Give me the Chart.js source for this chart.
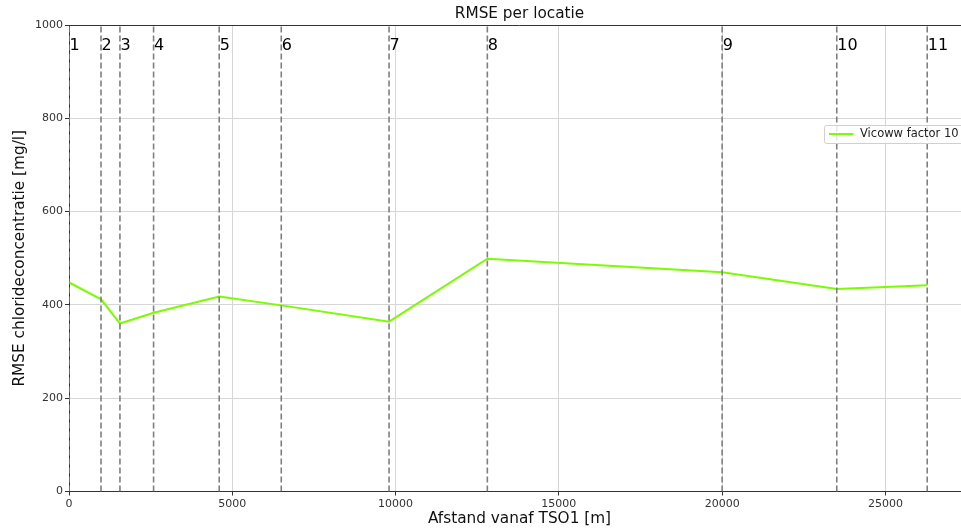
<!DOCTYPE html>
<html>
<head>
<meta charset="utf-8">
<script src="https://cdn.jsdelivr.net/npm/chart.js@4/dist/chart.umd.min.js"></script>
<style>
  html, body { margin: 0; padding: 0; background: #fff; overflow: hidden; }
  #wrap { width: 961px; height: 531px; overflow: hidden; }
</style>
</head>
<body>
<div id="wrap"><canvas id="rmseChart" width="980" height="531"></canvas></div>
<script>
// locations along the river, distance from TSO1 [m] and RMSE [mg/l]
const locaties = ["1", "2", "3", "4", "5", "6", "7", "8", "9", "10", "11"];
const afstand = [0, 980, 1560, 2590, 4600, 6500, 9800, 12810, 20000, 23510, 26280];
const rmse = [448, 412, 360, 383, 418, 399, 364, 499, 470, 434, 442];
const xTicks = [0, 5000, 10000, 15000, 20000, 25000];
const yTicks = [0, 200, 400, 600, 800, 1000];

const font = "'DejaVu Sans', sans-serif";
const green = "#7cfc00";
const dashGrey = "#7f7f7f";

// one dashed dataset per location, from bottom to top of the axes
const locatieLines = afstand.map((x) => {
  return {
    label: "",
    data: [{ x: x, y: 0 }, { x: x, y: 1000 }],
    borderColor: dashGrey,
    borderWidth: 1.6,
    borderDash: [6, 3],
    pointRadius: 0,
    order: 0,
  };
});

const extras = {
  id: "extras",
  afterDatasetsDraw(chart) {
    const ctx = chart.ctx;
    const area = chart.chartArea;
    const xs = chart.scales.x;
    const ys = chart.scales.y;
    ctx.save();
    // top spine
    ctx.strokeStyle = "#333";
    ctx.lineWidth = 1;
    ctx.beginPath();
    ctx.moveTo(area.left, area.top + 0.5);
    ctx.lineTo(area.right, area.top + 0.5);
    ctx.stroke();

    // location numbers
    ctx.fillStyle = "#000";
    ctx.font = "16px " + font;
    ctx.textAlign = "left";
    ctx.textBaseline = "alphabetic";
    locaties.forEach((name, i) => {
      ctx.fillText(name, xs.getPixelForValue(afstand[i]) + 0.5, ys.getPixelForValue(947));
    });

    // legend
    const bx = 824.5, by = 125.5, bw = 150, bh = 18;
    ctx.fillStyle = "rgba(255,255,255,0.8)";
    ctx.strokeStyle = "#d0d0d0";
    ctx.beginPath();
    ctx.roundRect(bx, by, bw, bh, 2);
    ctx.fill();
    ctx.stroke();
    ctx.strokeStyle = green;
    ctx.lineWidth = 2;
    ctx.beginPath();
    ctx.moveTo(829, 134);
    ctx.lineTo(853, 134);
    ctx.stroke();
    ctx.fillStyle = "#222";
    ctx.font = "11.5px " + font;
    ctx.textBaseline = "middle";
    ctx.fillText("Vicoww factor 10", 860, 134.5);

    // titles
    ctx.fillStyle = "#111";
    ctx.font = "15.3px " + font;
    ctx.textAlign = "center";
    const cx = (area.left + area.right) / 2;
    ctx.fillText("RMSE per locatie", cx, 14);
    ctx.fillText("Afstand vanaf TSO1 [m]", cx, 519);
    ctx.translate(20, (area.top + area.bottom) / 2);
    ctx.rotate(-Math.PI / 2);
    ctx.fillText("RMSE chlorideconcentratie [mg/l]", 0, 0);
    ctx.restore();
  },
};

new Chart(document.getElementById("rmseChart"), {
  type: "line",
  data: {
    datasets: [
      {
        label: "Vicoww factor 10",
        data: afstand.map((x, i) => ({ x: x, y: rmse[i] })),
        borderColor: green,
        borderWidth: 2,
        pointRadius: 0,
        tension: 0,
        order: 1,
      },
      ...locatieLines,
    ],
  },
  options: {
    responsive: false,
    animation: false,
    layout: { padding: { top: 25, right: 10, left: 0, bottom: 0 } },
    scales: {
      x: {
        type: "linear",
        min: 0,
        max: 27590,
        afterBuildTicks: (scale) => {
          scale.ticks = xTicks.map((v) => ({ value: v }));
        },
        afterFit: (scale) => {
          scale.height = 39.5;
        },
        grid: { color: "#d6d6d6", tickColor: "#333", tickLength: 4 },
        border: { color: "#333", width: 1 },
        ticks: {
          color: "#333",
          font: { family: font, size: 11 },
          padding: 2,
          maxRotation: 0,
          callback: (v) => `${v}`,
        },
      },
      y: {
        min: 0,
        max: 1000,
        afterBuildTicks: (scale) => {
          scale.ticks = yTicks.map((v) => ({ value: v }));
        },
        afterFit: (scale) => {
          scale.width = 69;
        },
        grid: { color: "#d6d6d6", tickColor: "#333", tickLength: 4 },
        border: { color: "#333", width: 1 },
        ticks: {
          color: "#333",
          font: { family: font, size: 11 },
          padding: 2,
          callback: (v) => `${v}`,
        },
      },
    },
    plugins: {
      legend: { display: false },
      title: { display: false },
      tooltip: { enabled: false },
    },
  },
  plugins: [extras],
});
</script>
</body>
</html>
